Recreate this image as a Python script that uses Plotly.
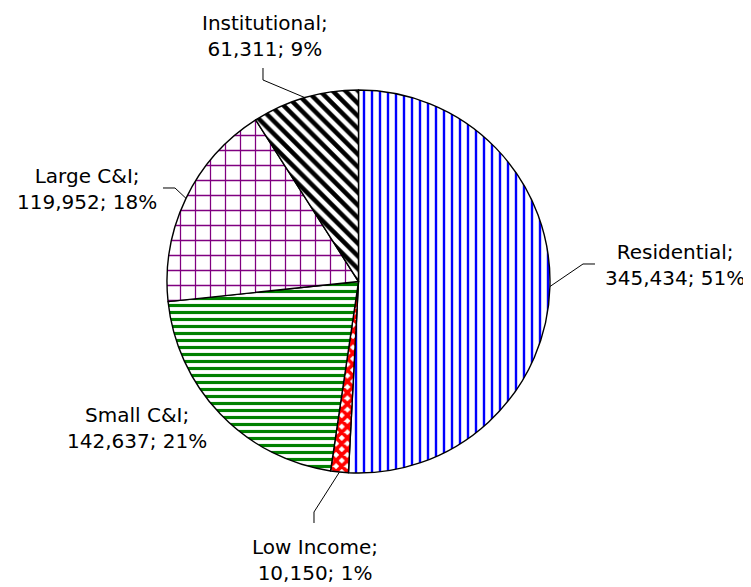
import math
import plotly.graph_objects as go

# ---- data ----
categories = ["Residential", "Low Income", "Small C&I", "Large C&I", "Institutional"]
values = [345434, 10150, 142637, 119952, 61311]

# ---- style ----
OFF = 8                                   # page body margin in px
W, H = 751 - OFF, 587 - OFF
CX, CY, R = 358.5, 281.5, 191.5           # pie centre / radius in reference px
pattern_shapes = ["|", "x", "-", "+", "\\"]
pattern_fg = ["#0000FF", "#FF0000", "#008000", "#800080", "#000000"]
pattern_size = [8, 8, 7, 15, 9]
pattern_solid = [0.3, 0.7, 0.45, 0.16, 0.5]
FONT = "DejaVu Sans, Liberation Sans, Arial, sans-serif"
FS = 20
# label placement (text centre, reference px) and leader elbow points per slice
label_pos = {
    "Residential": (675, 265),
    "Low Income": (315, 560),
    "Small C&I": (137, 428),
    "Large C&I": (87, 189),
    "Institutional": (265, 36),
}
leader_elbow = {
    "Residential": [(583, 264), (595, 264)],
    "Low Income": [(314, 512), (314, 523)],
    "Small C&I": None,
    "Large C&I": [(175, 188), (163, 188)],
    "Institutional": [(263, 80), (263, 68)],
}


def px2paper(x, y):
    return (x - OFF) / W, 1 - (y - OFF) / H


fig = go.Figure()
dx0, dy1 = px2paper(CX - R, CY - R)
dx1, dy0 = px2paper(CX + R, CY + R)
fig.add_trace(go.Pie(
    labels=categories,
    values=values,
    sort=False,
    direction="clockwise",
    rotation=0,
    textinfo="none",
    hoverinfo="label+value+percent",
    showlegend=False,
    marker=dict(
        colors=["white"] * len(values),
        line=dict(color="black", width=1.4),
        pattern=dict(shape=pattern_shapes, fgcolor=pattern_fg, bgcolor="white",
                     size=pattern_size, solidity=pattern_solid,
                     fillmode="overlay", fgopacity=1),
    ),
    domain=dict(x=[dx0, dx1], y=[dy0, dy1]),
))

total = sum(values)
cum = 0
annotations = []
shapes = []
for cat, v in zip(categories, values):
    mid = (cum + v / 2) / total * 2 * math.pi
    cum += v
    ex = CX + R * math.sin(mid)
    ey = CY - R * math.cos(mid)
    pct = round(v / total * 100)
    txt = f"{cat};<br>{v:,}; {pct}%"
    lx, ly = label_pos[cat]
    ax, ay = px2paper(lx, ly)
    annotations.append(dict(x=ax, y=ay, xref="paper", yref="paper", text=txt,
                            showarrow=False, xanchor="center", yanchor="middle",
                            align="center", font=dict(family=FONT, size=FS, color="black")))
    el = leader_elbow[cat]
    if el:
        pts = [(ex, ey)] + el
        path = ""
        for i, (px, py) in enumerate(pts):
            qx, qy = px2paper(px, py)
            path += ("M" if i == 0 else "L") + f"{qx:.5f},{qy:.5f} "
        shapes.append(dict(type="path", path=path.strip(), xref="paper", yref="paper",
                           line=dict(color="black", width=1)))

fig.update_layout(
    width=W, height=H,
    margin=dict(l=0, r=0, t=0, b=0),
    paper_bgcolor="white", plot_bgcolor="white",
    annotations=annotations,
    shapes=shapes,
)
fig.write_html("out.html")
